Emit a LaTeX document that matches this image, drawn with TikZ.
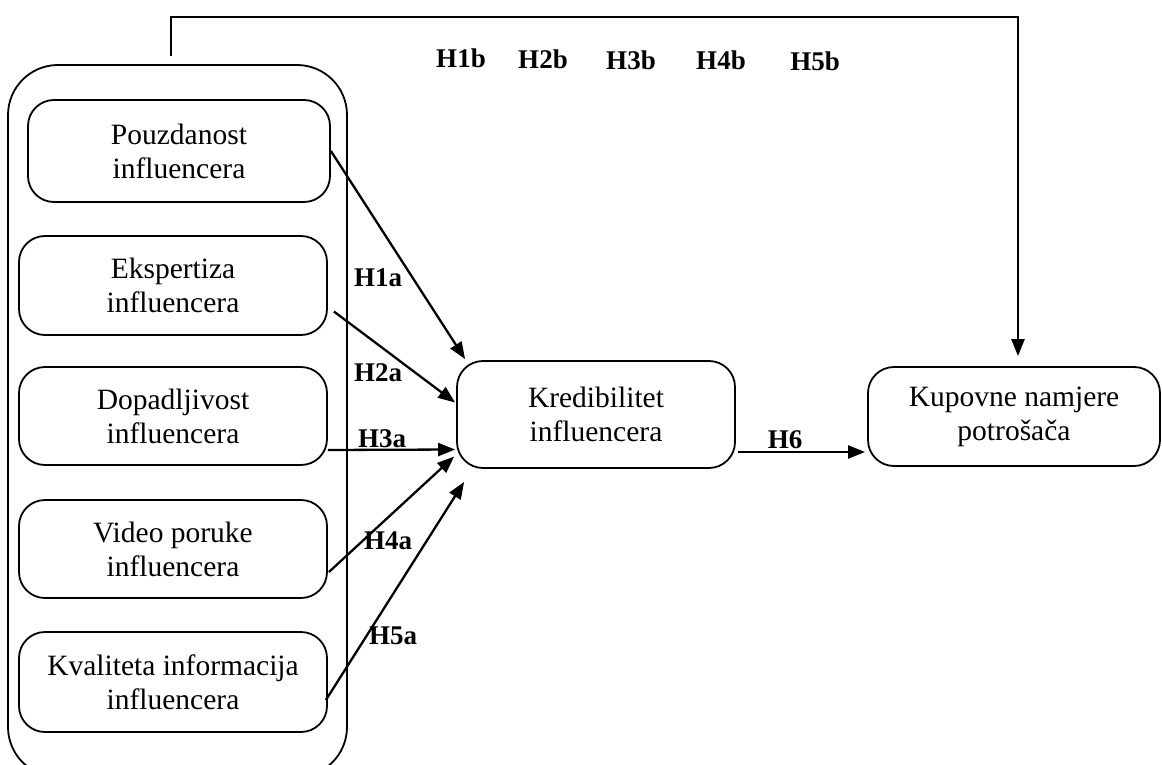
\documentclass[tikz,border=0pt]{standalone}
\usepackage{fontspec}
\setmainfont{Liberation Serif}
\usetikzlibrary{arrows.meta,calc}
\begin{document}
\begin{tikzpicture}[x=1pt,y=-1pt,
  box/.style={draw,line width=1.8pt,rounded corners=26pt,align=center,inner sep=0pt,
    font=\fontsize{29.5}{34}\selectfont},
  conn/.style={line width=2.3pt,-{Triangle[length=17pt,width=13pt]}},
  lab/.style={font=\fontsize{27}{30}\selectfont\bfseries,inner sep=0pt}]
\useasboundingbox (0,0) rectangle (1162,765);
\begin{scope}
\clip (0,0) rectangle (1162,765);
\node[draw,line width=1.8pt,rounded corners=50pt,minimum width=339pt,minimum height=712pt,inner sep=0pt] (outer) at (177.5,421) {};
\node[box,minimum width=302pt,minimum height=102pt] (b1) at (179,151) {Pouzdanost\\influencera};
\node[box,minimum width=308pt,minimum height=99pt] (b2) at (173,285.5) {Ekspertiza\\influencera};
\node[box,minimum width=308pt,minimum height=98pt] (b3) at (173,416) {Dopadljivost\\influencera};
\node[box,minimum width=308pt,minimum height=98pt] (b4) at (173,549) {Video poruke\\influencera};
\node[box,minimum width=308pt,minimum height=100pt] (b5) at (173,682) {Kvaliteta informacija\\influencera};
\node[box,minimum width=278pt,minimum height=107pt] (kred) at (596,414.5) {Kredibilitet\\influencera};
\node[box,minimum width=292pt,minimum height=99pt] (kup) at (1014,416.5) {Kupovne namjere\\potrošača};
\end{scope}

\draw[conn] (b1.east) -- ($(kred.north west)+(9,-1)$);
\draw[conn] ($(b2.east)+(6,26)$) -- ($(kred.west)+(-1,-12)$);
\draw[conn] ($(b3.east)+(0,34)$) -- ($(kred.west)+(-1,35)$);
\draw[conn] ($(b4.east)+(1,23)$) -- ($(kred.west)+(-2,42)$);
\draw[conn] ($(b5.east)+(-2,18)$) -- ($(kred.south west)+(8,13)$);
\draw[conn] ($(kred.east)+(2,37.5)$) -- ($(kup.west)+(-2,35.5)$);
\coordinate (tl) at ($(outer.north west)+(164,-8)$);
\draw[conn] (tl) |- (1018,17) -- ($(kup.north)+(4,-10)$);

\node[lab] (h1a) at (378,278) {H1a};
\node[lab] (h2a) at (378,373) {H2a};
\node[lab] (h3a) at (382,439) {H3a};
\node[lab] (h4a) at (388,541) {H4a};
\node[lab] (h5a) at (393,636) {H5a};
\node[lab] (h6) at (785,440) {H6};
\node[lab] (h1b) at (461,58) {H1b};
\node[lab] (h2b) at (543,59) {H2b};
\node[lab] (h3b) at (631,60) {H3b};
\node[lab] (h4b) at (721,60) {H4b};
\node[lab] (h5b) at (815,61) {H5b};
\end{tikzpicture}
\end{document}
